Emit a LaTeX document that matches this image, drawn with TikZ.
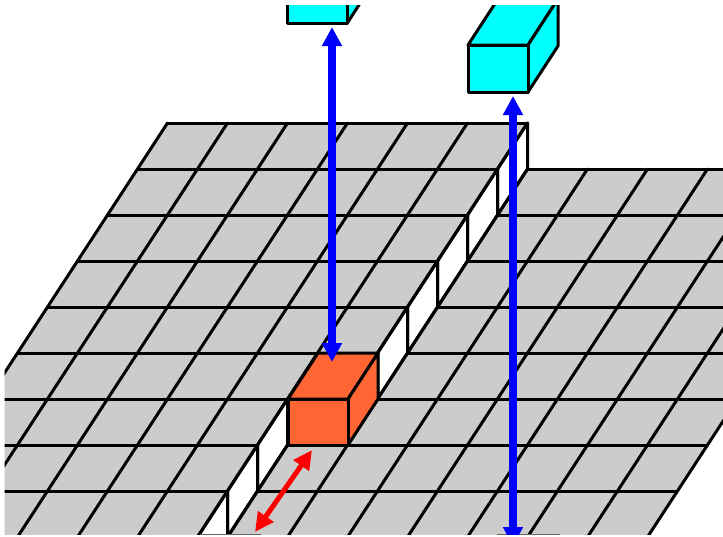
\documentclass[tikz,border=0pt]{standalone}
\usetikzlibrary{arrows.meta}
\definecolor{plane}{HTML}{CCCCCC}
\definecolor{orangebox}{HTML}{FF6633}
\definecolor{cyanbox}{HTML}{00FFFF}
\definecolor{bluearrow}{HTML}{0000FF}
\tikzset{
  gridframe/.style={x={(60pt,0pt)},y={(-30pt,-46pt)},shift={(167.5pt,-123pt)}},
  gridline/.style={draw=black,line width=3pt,line cap=round,line join=round},
  cellface/.style={fill=plane},
  wallface/.style={fill=white,gridline},
  boxface/.style={gridline},
  vertarrow/.style={draw=bluearrow,line width=8pt,{Triangle[length=19pt,width=19pt]}-{Triangle[length=19pt,width=19pt]}},
  movearrow/.style={draw=red,line width=5pt,{Triangle[length=19pt,width=18pt]}-{Triangle[length=19pt,width=18pt]}},
  cliprim/.style={draw=black!60,line width=1pt}
}
\begin{document}
\begin{tikzpicture}[x=1pt,y=-1pt]
\useasboundingbox (0,0) rectangle (723,536);
\begin{scope}
\clip (4.5,5) rectangle (723,534.8);
\begin{scope}[gridframe]
  % raised left plane and lower right plane
  \fill[cellface] (0,0) -- (6,0) -- (6,6) -- (5,6) -- (5,10) -- (0,10) -- cycle;
  \fill[cellface] (6.5,1) -- (12.5,1) -- (12.5,10) -- (5.5,10) -- (5.5,7) -- (6.5,7) -- cycle;
  % white side walls
  \foreach \j in {0,...,5}
    \draw[wallface] (6,\j) -- (6.5,\j+1) -- (6.5,\j+2) -- (6,\j+1) -- cycle;
  \foreach \j in {6,7,8}
    \draw[wallface] (5,\j) -- (5.5,\j+1) -- (5.5,\j+2) -- (5,\j+1) -- cycle;
  % left plane lines
  \foreach \j in {0,...,6} \draw[gridline] (0,\j) -- (6,\j);
  \foreach \j in {7,8,9} \draw[gridline] (0,\j) -- (5,\j);
  \foreach \i in {0,...,5} \draw[gridline] (\i,0) -- (\i,10);
  \draw[gridline] (6,0) -- (6,6);
  \draw[gridline] (5,6) -- (6,6);
  % right plane lines
  \foreach \j in {1,...,6} \draw[gridline] (6.5,\j) -- (12.5,\j);
  \foreach \j in {7,8,9} \draw[gridline] (5.5,\j) -- (12.5,\j);
  \foreach \i in {6.5,7.5,...,12.5} \draw[gridline] (\i,1) -- (\i,10);
  \draw[gridline] (5.5,7) -- (5.5,10);
\end{scope}
% clipped tops of the boxes below the frame
\draw[cliprim] (200,534.3) -- (261,534.3);
\draw[cliprim] (497,534.3) -- (560,534.3);
% orange box
\coordinate (oa) at (288,399); \coordinate (ob) at (348,399);
\coordinate (oc) at (348,445); \coordinate (od) at (288,445);
\coordinate (oe) at (318,353); \coordinate (of) at (378,353);
\coordinate (og) at (378,399);
\draw[boxface,fill=orangebox] (oa) -- (oe) -- (of) -- (ob) -- cycle;
\draw[boxface,fill=orangebox] (ob) -- (of) -- (og) -- (oc) -- cycle;
\draw[boxface,fill=orangebox] (oa) -- (ob) -- (oc) -- (od) -- cycle;
% cyan box, right
\coordinate (ca) at (468,45); \coordinate (cb) at (528,45);
\coordinate (cc) at (528,92); \coordinate (cd) at (468,92);
\coordinate (ce) at (498,-1); \coordinate (cf) at (558,-1);
\coordinate (cg) at (558,46);
\draw[boxface,fill=cyanbox] (ca) -- (ce) -- (cf) -- (cb) -- cycle;
\draw[boxface,fill=cyanbox] (cb) -- (cf) -- (cg) -- (cc) -- cycle;
\draw[boxface,fill=cyanbox] (ca) -- (cb) -- (cc) -- (cd) -- cycle;
% cyan box, left
\coordinate (da) at (287,-23); \coordinate (db) at (347,-23);
\coordinate (dc) at (347,23.5); \coordinate (dd) at (287,23.5);
\coordinate (df) at (377,-69); \coordinate (dg) at (377,-23);
\draw[boxface,fill=cyanbox] (db) -- (df) -- (dg) -- (dc) -- cycle;
\draw[boxface,fill=cyanbox] (da) -- (db) -- (dc) -- (dd) -- cycle;
% arrows
\coordinate (ua) at (332,27); \coordinate (ub) at (332,362);
\coordinate (va) at (513,96); \coordinate (vb) at (513,546);
\coordinate (ra) at (312,450); \coordinate (rb) at (255,532);
\draw[vertarrow] (ua) -- (ub);
\draw[vertarrow] (va) -- (vb);
\draw[movearrow] (ra) -- (rb);
\end{scope}
\end{tikzpicture}
\end{document}
